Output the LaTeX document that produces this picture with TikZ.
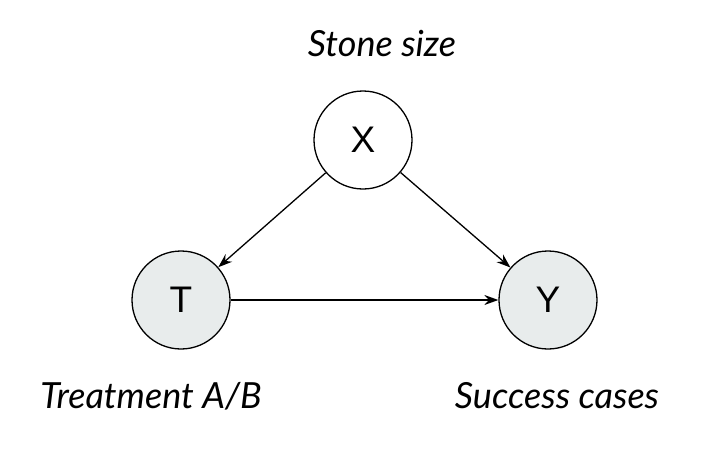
\documentclass[tikz,border=0pt]{standalone}
\usepackage{fontspec}
\setmainfont{Lato}
\newfontfamily\letterfont{Liberation Sans}
\usetikzlibrary{arrows.meta}
\definecolor{nodefill}{HTML}{E8ECEC}
\tikzset{
  var/.style={circle, draw=black, line width=1.3pt, minimum size=98pt, inner sep=0pt, font=\letterfont\fontsize{37}{40}\selectfont},
  obs/.style={var, fill=nodefill},
  lat/.style={var, fill=white},
  lab/.style={font=\itshape\fontsize{36}{40}\selectfont, inner sep=0pt},
  edge/.style={line width=1.3pt, -{Stealth[length=14pt,width=10pt]}}
}
\begin{document}
\begin{tikzpicture}[x=1pt,y=-1pt]
\useasboundingbox (0,0) rectangle (702,450);
\node[lat] (X) at (363,140) {X};
\node[obs] (T) at (181,300) {T};
\node[obs] (Y) at (548,300) {Y};
\node[lab] (Xl) at (382,44) {Stone size};
\node[lab] (Tl) at (151,396) {Treatment A/B};
\node[lab] (Yl) at (557,396) {Success cases};
\draw[edge] (X) -- (T);
\draw[edge] (X) -- (Y);
\draw[edge] (T) -- (Y);
\end{tikzpicture}
\end{document}
